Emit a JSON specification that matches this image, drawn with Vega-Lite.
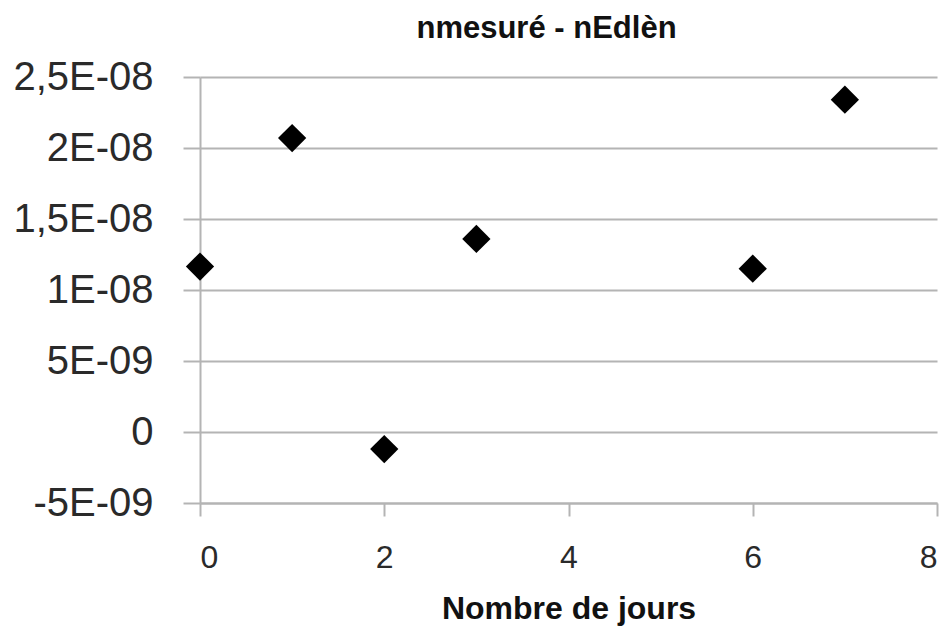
{
  "$schema": "https://vega.github.io/schema/vega-lite/v6.json",
  "width": 737,
  "height": 426,
  "autosize": "none",
  "padding": {"left": 200, "top": 77, "right": 11, "bottom": 129},
  "background": "white",
  "title": {
    "text": "nmesuré  - nEdlèn",
    "font": "Liberation Sans",
    "fontSize": 31,
    "fontWeight": "bold",
    "color": "#111111",
    "anchor": "middle",
    "dx": -22,
    "offset": 12
  },
  "data": {
    "values": [
      {"jours": 0, "diff": 1.165e-8},
      {"jours": 1, "diff": 2.07e-8},
      {"jours": 2, "diff": -1.2e-9},
      {"jours": 3, "diff": 1.36e-8},
      {"jours": 6, "diff": 1.15e-8},
      {"jours": 7, "diff": 2.34e-8}
    ]
  },
  "mark": {"type": "point", "shape": "diamond", "filled": true, "color": "#000000", "opacity": 1, "size": 800},
  "encoding": {
    "x": {
      "field": "jours",
      "type": "quantitative",
      "scale": {"domain": [0, 8], "nice": false, "zero": false},
      "axis": {
        "title": "Nombre de jours",
        "titleFont": "Liberation Sans",
        "titleFontSize": 32,
        "titleFontWeight": "bold",
        "titleColor": "#111111",
        "titlePadding": 20,
        "values": [0, 2, 4, 6, 8],
        "labelFont": "Liberation Sans",
        "labelFontSize": 32,
        "labelColor": "#2a2a2a",
        "labelPadding": 26,
        "tickSize": 13,
        "tickColor": "#b4b4b4",
        "tickWidth": 2,
        "domainColor": "#b4b4b4",
        "domainWidth": 2,
        "grid": false
      }
    },
    "y": {
      "field": "diff",
      "type": "quantitative",
      "scale": {"domain": [-5e-9, 2.5e-8], "nice": false, "zero": false},
      "axis": {
        "title": null,
        "values": [-5e-9, 0, 5e-9, 1e-8, 1.5e-8, 2e-8, 2.5e-8],
        "labelExpr": "datum.value == 0 ? '0' : (datum.value < 0 ? '-' : '') + replace(toString(round(abs(datum.value) / pow(10, floor(log(abs(datum.value)) / LN10 + 1e-9)) * 10) / 10), '.', ',') + 'E-' + (floor(log(abs(datum.value)) / LN10 + 1e-9) > -10 ? '0' : '') + toString(-floor(log(abs(datum.value)) / LN10 + 1e-9))",
        "labelFont": "Liberation Sans",
        "labelFontSize": 40,
        "labelColor": "#2a2a2a",
        "labelPadding": 30,
        "tickSize": 17,
        "tickColor": "#b4b4b4",
        "tickWidth": 2,
        "domainColor": "#b4b4b4",
        "domainWidth": 2,
        "grid": true,
        "gridColor": "#b4b4b4",
        "gridWidth": 2
      }
    }
  },
  "config": {"view": {"stroke": null}}
}
